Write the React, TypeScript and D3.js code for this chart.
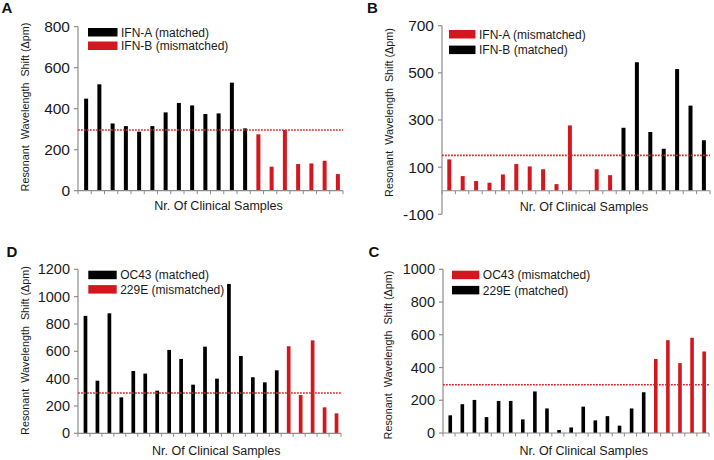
import React from "react";
import * as d3 from "d3";

// ---- data ----
const aMatched = [449, 519, 328, 315, 288, 315, 382, 428, 416, 374, 377, 527, 304];
const aMismatched = [275, 117, 296, 130, 133, 146, 81];
const aThreshold = 296;
const aTicks = [0, 200, 400, 600, 800];
const aLegend = ["IFN-A (matched)", "IFN-B (mismatched)"];

const bMismatched: (number | null)[] = [133, 62, 41, 34, 69, 113, 103, 91, 28, 277, null, 91, 66];
const bMatched = [267, 545, 249, 178, 516, 361, 214];
const bThreshold = 150;
const bTicks = [-100, 100, 300, 500, 700];
const bLegend = ["IFN-A (mismatched)", "IFN-B (matched)"];

const dMatched = [859, 385, 878, 263, 456, 437, 312, 610, 544, 356, 634, 400, 1093, 566, 410, 373, 461];
const dMismatched = [637, 280, 680, 190, 146];
const dThreshold = 295;
const dTicks = [0, 200, 400, 600, 800, 1000, 1200];
const dLegend = ["OC43 (matched)", "229E (mismatched)"];

const cMatched = [108, 176, 202, 97, 196, 196, 83, 254, 150, 18, 34, 161, 77, 103, 45, 150, 249];
const cMismatched = [452, 567, 427, 582, 498];
const cThreshold = 295;
const cTicks = [0, 200, 400, 600, 800, 1000];
const cLegend = ["OC43 (mismatched)", "229E (matched)"];

const xLabel = "Nr. Of Clinical Samples";
const yLabel = "Resonant  Wavelength  Shift (\u0394pm)";

const BLACK = "#000000";
const RED = "#d2181e";
const LINE_RED = "#e3242b";
const AXIS = "#8c8c8c";
const FONT = "'Liberation Sans', Arial, sans-serif";

type Bar = { v: number | null; c: string };

type PanelProps = {
  letter: string;
  letterX: number;
  letterY: number;
  bars: Bar[];
  domain: [number, number];
  ticks: number[];
  tickFont: number;
  threshold: number;
  x0: number;
  x1: number;
  yTop: number;
  yBottom: number;
  barW: number;
  barShift: number;
  legend: { label: string; c: string }[];
  lx: number;
  ly: number;
  ldy: number;
  lw: number;
  xLabelX: number;
  xLabelY: number;
  yLabelX: number;
  yLabelY: number;
};

function Panel(p: PanelProps) {
  const y = d3.scaleLinear().domain(p.domain).range([p.yBottom, p.yTop]);
  const x = d3
    .scaleBand<number>()
    .domain(d3.range(p.bars.length))
    .range([p.x0, p.x1])
    .padding(0);
  const bw = x.bandwidth();
  const y0 = y(0);
  const boundaries = d3.range(p.bars.length + 1).map((i) => p.x0 + i * bw);
  return (
    <g>
      <text x={p.letterX} y={p.letterY} fontFamily={FONT} fontWeight="bold" fontSize={15} fill="#111">
        {p.letter}
      </text>
      {/* y axis */}
      <line x1={p.x0} x2={p.x0} y1={p.yTop} y2={p.yBottom} stroke={AXIS} strokeWidth={1.2} />
      {p.ticks.map((t) => (
        <g key={t}>
          <line x1={p.x0 - 4} x2={p.x0} y1={y(t)} y2={y(t)} stroke={AXIS} strokeWidth={1.2} />
          <text
            x={p.x0 - 8}
            y={y(t)}
            dy="0.35em"
            textAnchor="end"
            fontFamily={FONT}
            fontSize={p.tickFont}
            fill="#1a1a1a"
          >
            {t}
          </text>
        </g>
      ))}
      {/* bars */}
      {p.bars.map((b, i) =>
        b.v == null ? null : (
          <rect
            key={i}
            x={(x(i) as number) + bw / 2 - p.barW / 2 + p.barShift}
            y={y(b.v)}
            width={p.barW}
            height={y0 - y(b.v)}
            fill={b.c}
          />
        )
      )}
      {/* x axis */}
      <line x1={p.x0} x2={p.x1} y1={y0} y2={y0} stroke={AXIS} strokeWidth={1.2} />
      {boundaries.map((bx, i) => (
        <line key={i} x1={bx} x2={bx} y1={y0} y2={y0 + 3.5} stroke={AXIS} strokeWidth={1} />
      ))}
      {/* threshold */}
      <line
        x1={p.x0}
        x2={p.x1}
        y1={y(p.threshold)}
        y2={y(p.threshold)}
        stroke={LINE_RED}
        strokeWidth={1.6}
        strokeDasharray="1.8,1.2"
      />
      {/* legend */}
      {p.legend.map((l, i) => (
        <g key={l.label}>
          <rect x={p.lx} y={p.ly + i * p.ldy} width={p.lw} height={8.5} fill={l.c} />
          <text
            x={p.lx + p.lw + 3.5}
            y={p.ly + i * p.ldy + 8.6}
            fontFamily={FONT}
            fontSize={12}
            fill="#1a1a1a"
          >
            {l.label}
          </text>
        </g>
      ))}
      {/* axis labels */}
      <text
        x={p.xLabelX}
        y={p.xLabelY}
        textAnchor="middle"
        fontFamily={FONT}
        fontSize={12.5}
        fill="#1a1a1a"
      >
        {xLabel}
      </text>
      <text
        transform={`translate(${p.yLabelX},${p.yLabelY}) rotate(-90)`}
        textAnchor="middle"
        fontFamily={FONT}
        fontSize={10.8}
        fill="#1a1a1a"
        style={{ whiteSpace: "pre" }}
      >
        {yLabel}
      </text>
    </g>
  );
}

const toBars = (groups: [(number | null)[], string][]): Bar[] =>
  groups.flatMap(([vals, c]) => vals.map((v) => ({ v, c })));

export default function App() {
  return (
    <svg
      width={714}
      height={460}
      style={{ position: "absolute", left: 0, top: 0, background: "#fff" }}
    >
      <rect width={714} height={460} fill="#fff" />
      <Panel
        letter="A"
        letterX={1.5}
        letterY={13}
        bars={toBars([
          [aMatched, BLACK],
          [aMismatched, RED],
        ])}
        domain={[0, 800]}
        ticks={aTicks}
        tickFont={15.5}
        threshold={aThreshold}
        x0={78}
        x1={343}
        yTop={26.7}
        yBottom={190.7}
        barW={4}
        barShift={1.5}
        legend={[
          { label: aLegend[0], c: BLACK },
          { label: aLegend[1], c: RED },
        ]}
        lx={88}
        ly={28}
        ldy={13.5}
        lw={29.5}
        xLabelX={218.5}
        xLabelY={210}
        yLabelX={28.5}
        yLabelY={107}
      />
      <Panel
        letter="B"
        letterX={367}
        letterY={12.5}
        bars={toBars([
          [bMismatched, RED],
          [bMatched, BLACK],
        ])}
        domain={[-100, 700]}
        ticks={bTicks}
        tickFont={15.5}
        threshold={bThreshold}
        x0={442}
        x1={710}
        yTop={25.7}
        yBottom={214.3}
        barW={4}
        barShift={0.6}
        legend={[
          { label: bLegend[0], c: RED },
          { label: bLegend[1], c: BLACK },
        ]}
        lx={449}
        ly={30}
        ldy={15.6}
        lw={26.5}
        xLabelX={584}
        xLabelY={211}
        yLabelX={393}
        yLabelY={112.5}
      />
      <Panel
        letter="D"
        letterX={6.5}
        letterY={256.7}
        bars={toBars([
          [dMatched, BLACK],
          [dMismatched, RED],
        ])}
        domain={[0, 1200]}
        ticks={dTicks}
        tickFont={14.5}
        threshold={dThreshold}
        x0={78}
        x1={341}
        yTop={269.3}
        yBottom={433.3}
        barW={3.7}
        barShift={1.5}
        legend={[
          { label: dLegend[0], c: BLACK },
          { label: dLegend[1], c: RED },
        ]}
        lx={88.3}
        ly={270.7}
        ldy={14.4}
        lw={28.4}
        xLabelX={216.3}
        xLabelY={455}
        yLabelX={28.5}
        yLabelY={350.5}
      />
      <Panel
        letter="C"
        letterX={368.5}
        letterY={257}
        bars={toBars([
          [cMatched, BLACK],
          [cMismatched, RED],
        ])}
        domain={[0, 1000]}
        ticks={cTicks}
        tickFont={14.5}
        threshold={cThreshold}
        x0={443}
        x1={709}
        yTop={269.3}
        yBottom={433}
        barW={3.6}
        barShift={1.2}
        legend={[
          { label: cLegend[0], c: RED },
          { label: cLegend[1], c: BLACK },
        ]}
        lx={452}
        ly={270.7}
        ldy={15.2}
        lw={27.3}
        xLabelX={583.7}
        xLabelY={455}
        yLabelX={392}
        yLabelY={355}
      />
    </svg>
  );
}
